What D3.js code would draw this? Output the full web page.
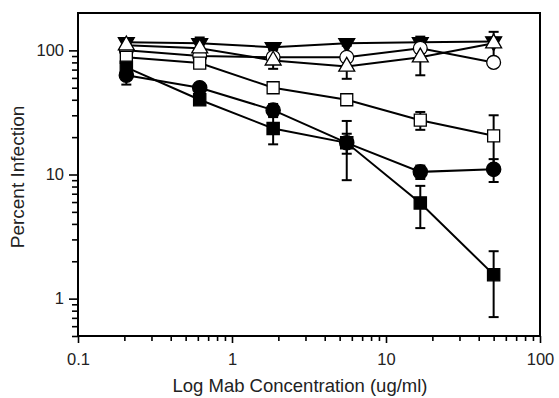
<!DOCTYPE html>
<html>
<head>
<meta charset="utf-8">
<script src="https://cdn.jsdelivr.net/npm/d3@7/dist/d3.min.js"></script>
<style>
  body { margin: 0; background: #fff; }
  svg { display: block; font-family: "Liberation Sans", Arial, sans-serif; }
</style>
</head>
<body>
<div id="chart"></div>
<script>
// concentrations (ug/ml), 3-fold dilutions
var conc = [0.206, 0.617, 1.85, 5.56, 16.7, 50];

// percent infection per antibody
var filledSquare = [73, 40, 23.5, 18, 5.9, 1.56];
var filledSquareErr = [10, 3, 6, 9, 2.2, 0.85];
var filledCircle = [63, 50, 33, 18, 10.5, 11];
var filledCircleErr = [10, 4, 4, 3.3, 1.3, 2.3];
var openSquare = [88, 79, 50, 40, 27.4, 20.5];
var openSquareErr = [5, 5, 4, 3, 4.5, 9.5];
var openCircle = [100, 90, 88, 88, 104, 80];
var openCircleErr = [5, 5, 5, 4, 8, 4];
var openTriangle = [110, 104, 83, 74, 88, 114];
var openTriangleErr = [8, 8, 12, 15, 25, 27];
var invTriangle = [116, 114, 106, 114, 116, 118];
var invTriangleErr = [5, 13, 5, 5, 13, 8];

var xMajor = [0.1, 1, 10, 100];
var yMajor = [1, 10, 100];

var width = 559, height = 398;
var margin = {top: 13, right: 19, bottom: 62, left: 78};

var svg = d3.select("#chart").append("svg")
    .attr("width", width)
    .attr("height", height);

var xscale = d3.scaleLog().domain([0.1, 100]).range([margin.left, width - margin.right]);
var yscale = d3.scaleLog().domain([0.5, 200]).range([height - margin.bottom, margin.top]);

// minor ticks 2..9 of each decade
var xMinor = [];
[0.1, 1, 10].forEach(function(d) {
  for (var k = 2; k <= 9; k++) xMinor.push(d * k);
});
var yMinor = [0.5, 0.6, 0.7, 0.8, 0.9];
[1, 10].forEach(function(d) {
  for (var k = 2; k <= 9; k++) yMinor.push(d * k);
});

var fmt = function(d) { return d < 1 ? "0.1" : String(d); };
var bottomY = height - margin.bottom;

var gx = svg.append("g").attr("transform", "translate(0," + bottomY + ")");
gx.call(d3.axisBottom(xscale).tickValues(xMinor).tickSize(5).tickFormat(""));
var gx2 = svg.append("g").attr("transform", "translate(0," + bottomY + ")");
gx2.call(d3.axisBottom(xscale).tickValues(xMajor).tickSize(7).tickPadding(10).tickFormat(fmt));

var gy = svg.append("g").attr("transform", "translate(" + margin.left + ",0)");
gy.call(d3.axisLeft(yscale).tickValues(yMinor).tickSize(6).tickFormat(""));
var gy2 = svg.append("g").attr("transform", "translate(" + margin.left + ",0)");
gy2.call(d3.axisLeft(yscale).tickValues(yMajor).tickSize(9).tickPadding(5).tickFormat(function(d) { return String(d); }));

svg.selectAll(".domain").remove();
svg.selectAll(".tick line").attr("stroke", "#000").attr("stroke-width", 1.6);
svg.selectAll(".tick text").attr("fill", "#222").style("font-size", "16.5px");

// frame
svg.append("rect")
  .attr("x", margin.left)
  .attr("y", margin.top)
  .attr("width", width - margin.left - margin.right)
  .attr("height", height - margin.top - margin.bottom)
  .attr("fill", "none")
  .attr("stroke", "#000")
  .attr("stroke-width", 2);

// axis titles
svg.append("text")
  .attr("x", 300)
  .attr("y", 392)
  .attr("text-anchor", "middle")
  .attr("fill", "#222")
  .style("font-size", "18.5px")
  .text("Log Mab Concentration (ug/ml)");

svg.append("text")
  .attr("transform", "translate(24," + 177 + ") rotate(-90)")
  .attr("text-anchor", "middle")
  .attr("fill", "#222")
  .style("font-size", "19px")
  .text("Percent Infection");

var series = [
  {values: invTriangle, err: invTriangleErr, shape: d3.symbolTriangle, size: 110, rot: 180, fill: "#000"},
  {values: openCircle, err: openCircleErr, shape: d3.symbolCircle, size: 150, rot: 0, fill: "#fff"},
  {values: openTriangle, err: openTriangleErr, shape: d3.symbolTriangle, size: 110, rot: 0, fill: "#fff"},
  {values: openSquare, err: openSquareErr, shape: d3.symbolSquare, size: 144, rot: 0, fill: "#fff"},
  {values: filledCircle, err: filledCircleErr, shape: d3.symbolCircle, size: 160, rot: 0, fill: "#000"},
  {values: filledSquare, err: filledSquareErr, shape: d3.symbolSquare, size: 150, rot: 0, fill: "#000"}
];

var line = d3.line()
  .x(function(d) { return xscale(d.x); })
  .y(function(d) { return yscale(d.y); });

function pts(s) {
  return conc.map(function(c, i) { return {x: c, y: s.values[i], e: s.err[i]}; });
}

// connecting lines
series.forEach(function(s) {
  svg.append("path")
    .datum(pts(s))
    .attr("d", line)
    .attr("fill", "none")
    .attr("stroke", "#000")
    .attr("stroke-width", 2);
});

// error bars
series.forEach(function(s) {
  var g = svg.append("g").attr("stroke", "#000").attr("stroke-width", 2);
  pts(s).forEach(function(d) {
    var cx = xscale(d.x);
    var y1 = yscale(d.y + d.e), y0 = yscale(Math.max(d.y - d.e, 0.51));
    g.append("line").attr("x1", cx).attr("x2", cx).attr("y1", y1).attr("y2", y0);
    g.append("line").attr("x1", cx - 5).attr("x2", cx + 5).attr("y1", y1).attr("y2", y1);
    g.append("line").attr("x1", cx - 5).attr("x2", cx + 5).attr("y1", y0).attr("y2", y0);
  });
});

// markers
series.forEach(function(s) {
  svg.append("g").selectAll("path")
    .data(pts(s))
    .enter().append("path")
    .attr("d", d3.symbol().type(s.shape).size(s.size))
    .attr("transform", function(d) {
      return "translate(" + xscale(d.x) + "," + yscale(d.y) + ") rotate(" + s.rot + ")";
    })
    .attr("fill", s.fill)
    .attr("stroke", "#000")
    .attr("stroke-width", 1.3);
});
</script>
</body>
</html>
